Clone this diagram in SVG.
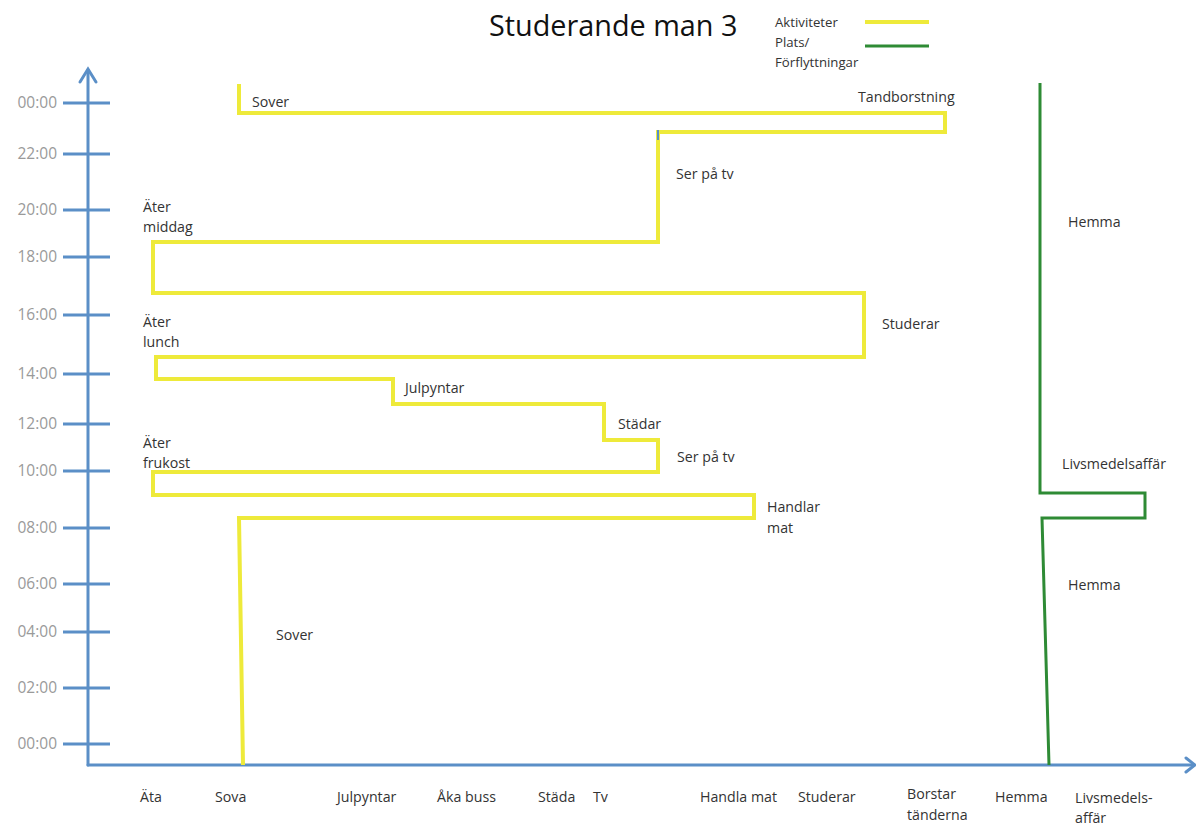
<svg xmlns="http://www.w3.org/2000/svg" width="1196" height="825" viewBox="0 0 1196 825">
<style>
.ax{stroke:#5b8fc7;stroke-width:3;fill:none;stroke-linecap:round}
.tick{stroke:#5b8fc7;stroke-width:3}
.tl{font-family:"Open Sans","Liberation Sans",sans-serif;font-size:15.5px;fill:#9a9a9a;text-anchor:end}
.lb{font-family:"Open Sans","Liberation Sans",sans-serif;font-size:14.2px;fill:#333}
.lg{font-family:"Open Sans","Liberation Sans",sans-serif;font-size:13.2px;fill:#333}
.act{stroke:#eeea3a;stroke-width:4;fill:none;stroke-linejoin:miter}
.loc{stroke:#2e8b35;stroke-width:3;fill:none}
</style>
<rect width="1196" height="825" fill="#ffffff"/>
<text x="489" y="36" font-family="'Open Sans','Liberation Sans',sans-serif" font-size="28.8" fill="#111">Studerande man 3</text>
<g id="legend">
<text class="lg" x="775" y="27">Aktiviteter</text>
<text class="lg" x="775" y="47">Plats/</text>
<text class="lg" x="775" y="67">Förflyttningar</text>
<line x1="865" y1="22" x2="929" y2="22" stroke="#eeea3a" stroke-width="4"/>
<line x1="865" y1="46" x2="929" y2="46" stroke="#2e8b35" stroke-width="3"/>
</g>
<g id="axes">
<polyline class="ax" points="88,765 88,70"/>
<polyline class="ax" points="80,82 88,69 96,82"/>
<polyline class="ax" points="88,765 1194,765"/>
<polyline class="ax" points="1186,758 1195,765 1186,772"/>
<line class="tick" x1="63" y1="103" x2="110" y2="103"/>
<line class="tick" x1="63" y1="154" x2="110" y2="154"/>
<line class="tick" x1="63" y1="210" x2="110" y2="210"/>
<line class="tick" x1="63" y1="257" x2="110" y2="257"/>
<line class="tick" x1="63" y1="315" x2="110" y2="315"/>
<line class="tick" x1="63" y1="374" x2="110" y2="374"/>
<line class="tick" x1="63" y1="424" x2="110" y2="424"/>
<line class="tick" x1="63" y1="471" x2="110" y2="471"/>
<line class="tick" x1="63" y1="528" x2="110" y2="528"/>
<line class="tick" x1="63" y1="584" x2="110" y2="584"/>
<line class="tick" x1="63" y1="632" x2="110" y2="632"/>
<line class="tick" x1="63" y1="688" x2="110" y2="688"/>
<line class="tick" x1="63" y1="744" x2="110" y2="744"/>
<text class="tl" x="57" y="108">00:00</text>
<text class="tl" x="57" y="159">22:00</text>
<text class="tl" x="57" y="215">20:00</text>
<text class="tl" x="57" y="262">18:00</text>
<text class="tl" x="57" y="320">16:00</text>
<text class="tl" x="57" y="379">14:00</text>
<text class="tl" x="57" y="429">12:00</text>
<text class="tl" x="57" y="476">10:00</text>
<text class="tl" x="57" y="533">08:00</text>
<text class="tl" x="57" y="589">06:00</text>
<text class="tl" x="57" y="637">04:00</text>
<text class="tl" x="57" y="693">02:00</text>
<text class="tl" x="57" y="749">00:00</text>
</g>
<g id="x-labels">
<text class="lb" x="140" y="802">Äta</text>
<text class="lb" x="215" y="802">Sova</text>
<text class="lb" x="337" y="802">Julpyntar</text>
<text class="lb" x="437" y="802">Åka buss</text>
<text class="lb" x="538" y="802">Städa</text>
<text class="lb" x="593" y="802">Tv</text>
<text class="lb" x="700" y="802">Handla mat</text>
<text class="lb" x="798" y="802">Studerar</text>
<text class="lb" x="907" y="799">Borstar</text>
<text class="lb" x="907" y="820">tänderna</text>
<text class="lb" x="995" y="802">Hemma</text>
<text class="lb" x="1075" y="803">Livsmedels-</text>
<text class="lb" x="1075" y="823">affär</text>
</g>
<g id="connectors">
<polyline id="activities" class="act" points="243,765 239,518 754,518 754,495 153,495 153,472 658,472 658,440 604,440 604,404 393,404 393,379 156,379 156,357 864,357 864,293 153,293 153,242 658,242 658,132 945,132 945,113 239,113 239,84"/>
<line x1="658" y1="130" x2="658" y2="140" stroke="#5b8fc7" stroke-width="2"/>
<polyline id="locations" class="loc" points="1040,83 1040,493 1145,493 1145,518 1042,518 1049,765"/>
</g>
<g id="activity-labels">
<text class="lb" x="252" y="107">Sover</text>
<text class="lb" x="858" y="102">Tandborstning</text>
<text class="lb" x="676" y="179">Ser på tv</text>
<text class="lb" x="143" y="212">Äter</text>
<text class="lb" x="143" y="232">middag</text>
<text class="lb" x="882" y="329">Studerar</text>
<text class="lb" x="143" y="327">Äter</text>
<text class="lb" x="143" y="347">lunch</text>
<text class="lb" x="405" y="393">Julpyntar</text>
<text class="lb" x="618" y="429">Städar</text>
<text class="lb" x="143" y="448">Äter</text>
<text class="lb" x="143" y="468">frukost</text>
<text class="lb" x="677" y="462">Ser på tv</text>
<text class="lb" x="767" y="512">Handlar</text>
<text class="lb" x="767" y="533">mat</text>
<text class="lb" x="276" y="640">Sover</text>
</g>
<g id="location-labels">
<text class="lb" x="1068" y="227">Hemma</text>
<text class="lb" x="1062" y="469">Livsmedelsaffär</text>
<text class="lb" x="1068" y="590">Hemma</text>
</g>
</svg>
